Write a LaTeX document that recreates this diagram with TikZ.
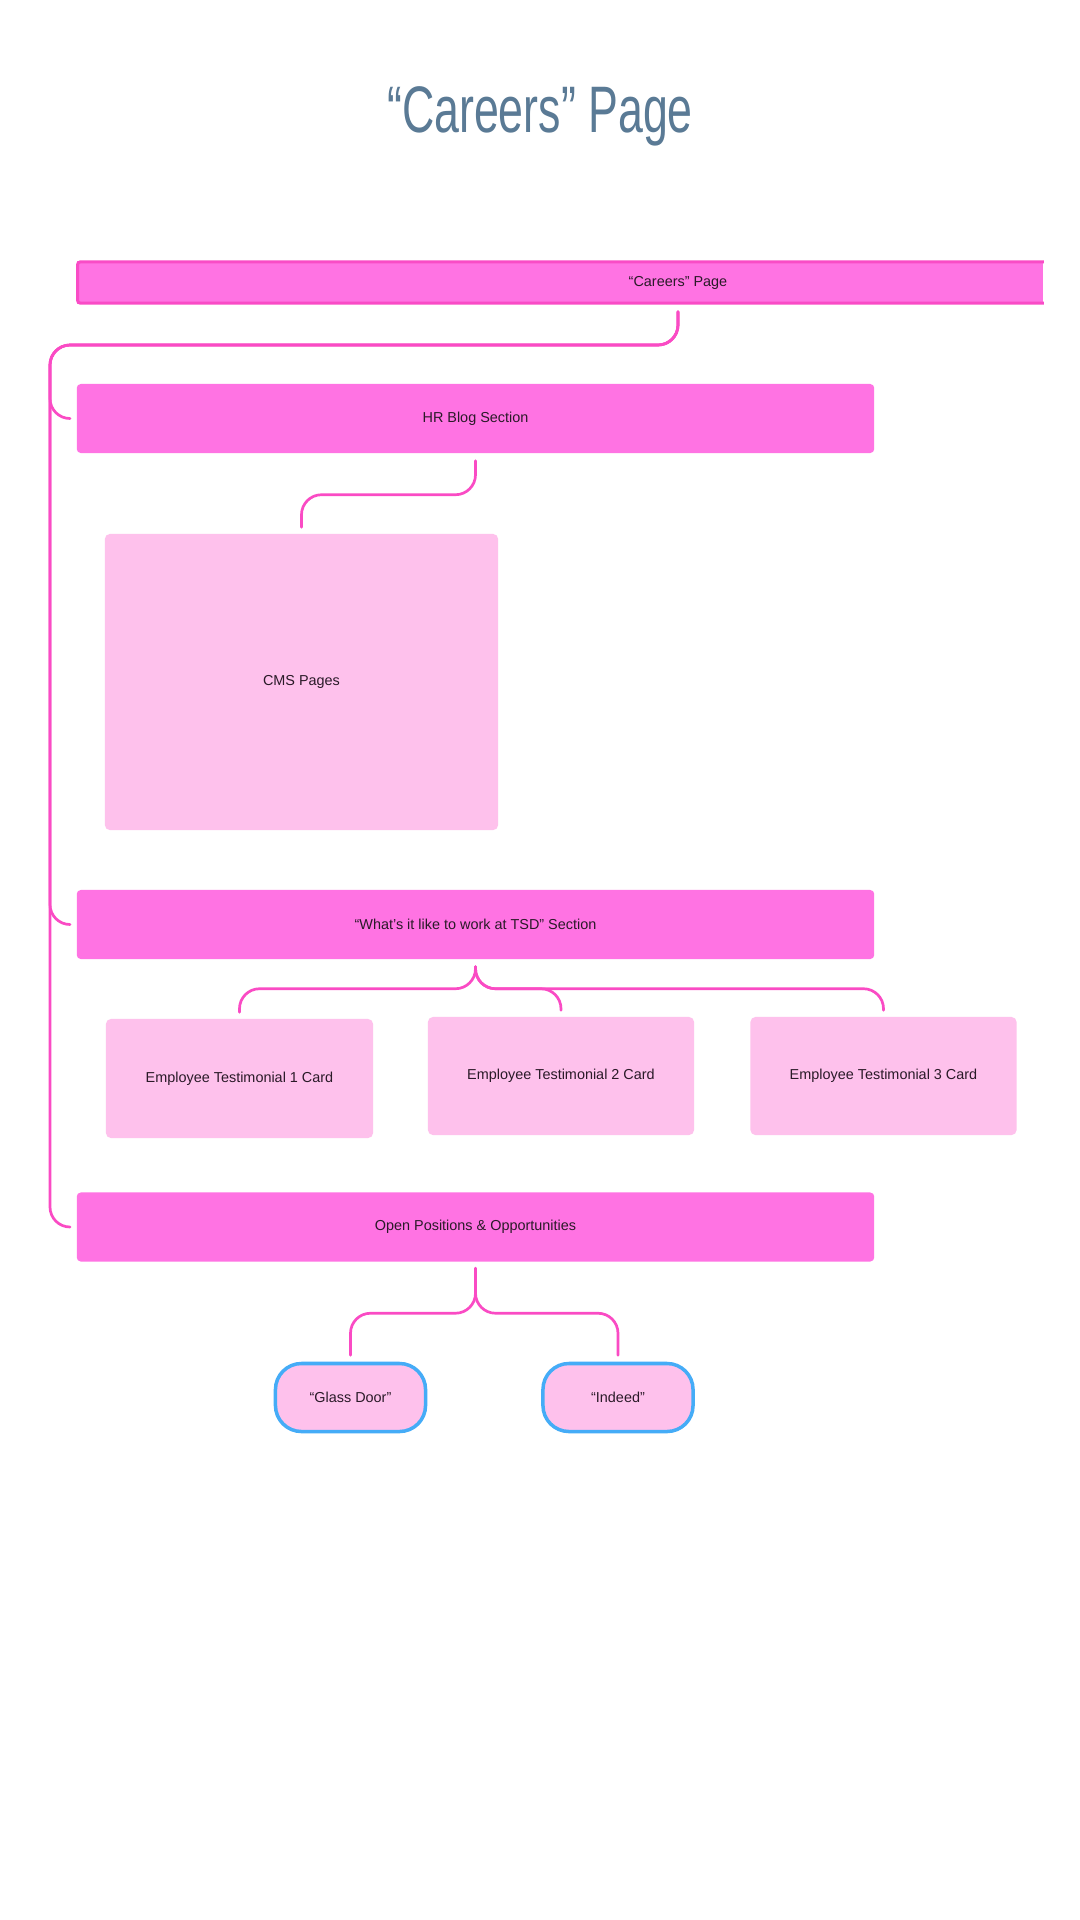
\documentclass[tikz,border=0pt]{standalone}
\usepackage{fontspec}
\usepackage{graphicx}
\setmainfont{Liberation Sans}
\definecolor{sectionpink}{HTML}{FF73E3}
\definecolor{barline}{HTML}{F94CC6}
\definecolor{cardpink}{HTML}{FEC1EC}
\definecolor{linkpink}{HTML}{FA4BC4}
\definecolor{sitesky}{HTML}{45ACF7}
\definecolor{titleslate}{HTML}{5A7A95}
\definecolor{inkdark}{HTML}{2A1A28}
\newcommand{\boxfont}{\fontsize{4.1}{4.9}\selectfont}
\begin{document}
\begin{tikzpicture}[x=0.01cm,y=-0.01cm,
    section/.style={fill=sectionpink, rounded corners=0.04cm, minimum width=7.97cm, minimum height=0.69cm, font=\boxfont, text=inkdark},
    card/.style={fill=cardpink, rounded corners=0.05cm, font=\boxfont, text=inkdark},
    jobsite/.style={fill=cardpink, draw=sitesky, line width=0.035cm, rounded corners=0.26cm, minimum width=1.50cm, minimum height=0.68cm, font=\boxfont, text=inkdark},
    link/.style={draw=linkpink, line width=0.027cm, rounded corners=0.2cm, line cap=round}]
        \fill[white] (0,0) rectangle (1080,1920);
        \useasboundingbox (0,0) rectangle (1080,1920);
        % title
        \node[anchor=base, font=\fontsize{18.7}{22}\selectfont, text=titleslate] (title) at (540,132) {\scalebox{0.68}[1]{“Careers” Page}};
        % page bar, open at the right end
        \node[fill=sectionpink, minimum width=9.66cm, minimum height=0.43cm, inner sep=0pt] (cpbar) at (560,282.5) {};
        \draw[barline, line width=0.03cm, rounded corners=0.03cm] ([yshift=-0.015cm]cpbar.north east) -| ([xshift=0.015cm]cpbar.west) |- ([yshift=0.015cm]cpbar.south east);
        \node[font=\boxfont, text=inkdark] (cplabel) at (678,283) {“Careers” Page};
        \coordinate (trunk) at (50,345);
        % sections
        \node[section] (hr) at (475.5,418.5) {HR Blog Section};
        \node[card, minimum width=3.93cm, minimum height=2.96cm] (cms) at (301.5,682) {CMS Pages};
        \node[section] (tsd) at (475.5,924.5) {“What’s it like to work at TSD” Section};
        \node[card, minimum width=2.67cm, minimum height=1.19cm] (card1) at (239.5,1078.5) {Employee Testimonial 1 Card};
        \node[card, minimum width=2.66cm, minimum height=1.18cm] (card2) at (561,1076) {Employee Testimonial 2 Card};
        \node[card, minimum width=2.66cm, minimum height=1.18cm] (card3) at (883.5,1076) {Employee Testimonial 3 Card};
        \node[section] (open) at (475.5,1227) {Open Positions \& Opportunities};
        \node[jobsite] (glass) at (350.5,1397.5) {“Glass Door”};
        \node[jobsite] (indeed) at (618,1397.5) {“Indeed”};
        % connectors
        \foreach \s in {hr,tsd,open}
            \draw[link] (cplabel |- cpbar.south) ++(0,7) |- (trunk) |- ([xshift=-0.06cm]\s.west);
        \draw[link] (hr.south) ++(0,7) -- ++(0,34) -| ([yshift=0.06cm]cms.north);
        \foreach \c in {card1,card2,card3}
            \draw[link] (tsd.south) ++(0,7) -- ++(0,22) -| ([yshift=0.06cm]\c.north);
        \foreach \j in {glass,indeed}
            \draw[link] (open.south) ++(0,6) -- ++(0,45) -| ([yshift=0.065cm]\j.north);
    \end{tikzpicture}
\end{document}
